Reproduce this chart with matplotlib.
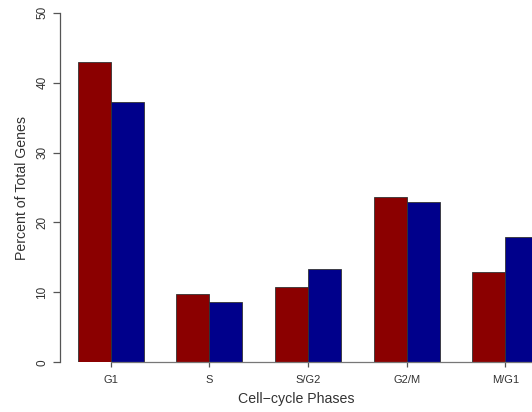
import matplotlib
matplotlib.use("Agg")
import matplotlib.pyplot as plt
import numpy as np

phases = ["G1", "S", "S/G2", "G2/M", "M/G1"]
series_a = [43.0, 9.8, 10.8, 23.7, 12.9]   # dark red bars
series_b = [37.2, 8.6, 13.3, 22.9, 17.9]   # dark blue bars

plt.rcParams['font.family'] = ['Liberation Sans', 'DejaVu Sans']

fig = plt.figure(figsize=(5.32, 4.12), dpi=100)
# axes placed in pixel terms: y axis line at x=60, 0..50 spans y=362..13
ax = fig.add_axes([60 / 532, (412 - 362.3) / 412, 472 / 532, 349.6 / 412])

centers = 1.5 + 3 * np.arange(len(phases))  # R barplot, beside=TRUE, space=c(0,1)
ax.bar(centers - 0.5, series_a, width=1.0, color='#8B0000', edgecolor='#333333', linewidth=0.6)
ax.bar(centers + 0.5, series_b, width=1.0, color='#00008B', edgecolor='#333333', linewidth=0.6)

ax.set_xlim(-0.041, 14.31)
ax.set_ylim(0, 50)

for s in ['top', 'right']:
    ax.spines[s].set_visible(False)
ax.spines['left'].set_bounds(0, 50)
ax.spines['left'].set_color('#555555')
ax.spines['bottom'].set_bounds(centers[0], 14.31)
ax.spines['bottom'].set_color('#777777')
ax.spines['left'].set_linewidth(0.9)
ax.spines['bottom'].set_linewidth(0.9)

ax.set_yticks([0, 10, 20, 30, 40, 50])
ax.tick_params(axis='y', direction='out', length=5, width=0.9, color='#555555',
               labelsize=8.5, labelcolor='#333333', pad=3.5)
for lab in ax.get_yticklabels():
    lab.set_rotation(90)
    lab.set_va('center')

ax.set_xticks(centers)
ax.set_xticklabels(phases)
ax.tick_params(axis='x', direction='out', length=3.5, width=0.9, color='#555555',
               labelsize=8, labelcolor='#333333', pad=6)

ax.set_ylabel("Percent of Total Genes", fontsize=10.2, color='#333333', labelpad=5)
ax.set_xlabel("Cell\u2212cycle Phases", fontsize=10.2, color='#333333', labelpad=5)

fig.savefig("out.png", dpi=100)
